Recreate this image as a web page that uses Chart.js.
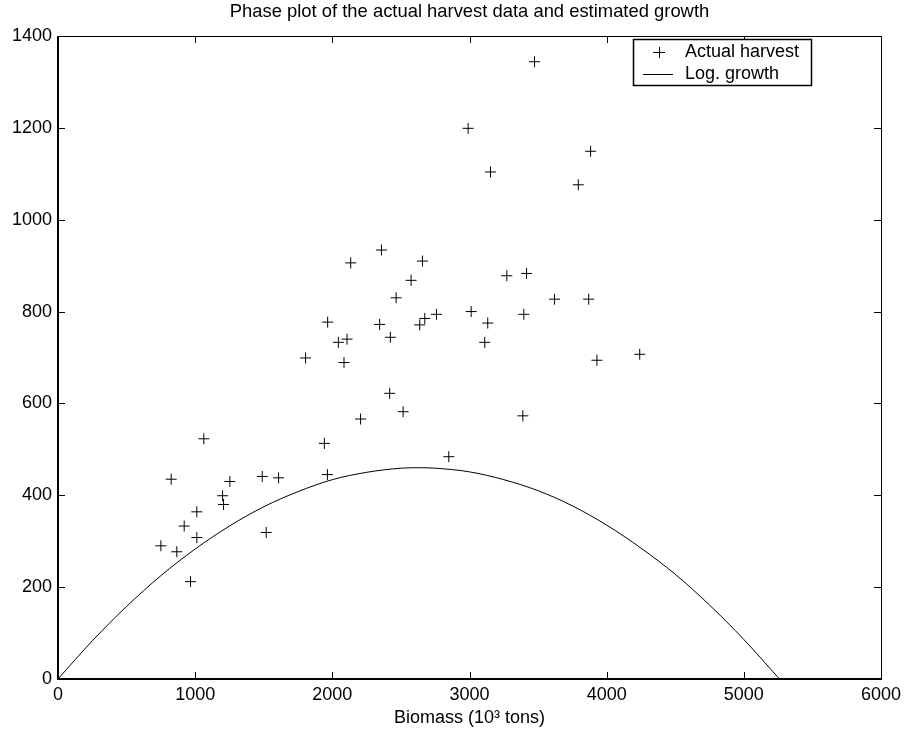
<!DOCTYPE html>
<html>
<head>
<meta charset="utf-8">
<script src="https://cdn.jsdelivr.net/npm/chart.js@4.4.0/dist/chart.umd.min.js"></script>
<style>
  html, body { margin: 0; padding: 0; background: #fff; }
  #wrap { width: 908px; height: 737px; }
</style>
</head>
<body>
<div id="wrap"><canvas id="mycanvas" width="908" height="737"></canvas></div>
<script>
// actual harvest points (biomass, harvest)
var harvestBiomass = [750, 825, 866, 920, 1012, 1012, 966, 1063, 1200, 1207, 1253, 1489, 1518, 1608, 1942, 1964,
	2990, 3474, 3153, 3793, 3883, 2358, 2134, 2657, 2574, 2465, 3272, 3416, 3620, 3869,
	1966, 2345, 2044, 2107, 2423, 2674, 2637, 2759, 3012, 3133, 3111, 3396,
	1805, 2085, 2418, 2516, 2206, 3389, 2849, 3929, 4241];
var harvestValues = [290, 435, 277, 333, 364, 308, 212, 523, 399, 380, 430, 441, 319, 438, 513, 445,
	1199, 1344, 1104, 1076, 1149, 934, 906, 910, 868, 830, 878, 883, 827, 827,
	777, 772, 733, 740, 744, 785, 771, 794, 800, 775, 733, 794,
	699, 689, 622, 582, 566, 573, 484, 694, 707];

// logistic growth curve
var growthBiomass = [0, 250, 500, 750, 1000, 1250, 1500, 1750, 2000, 2250, 2500, 2630, 2750, 3000, 3250, 3500, 3750, 4000, 4250, 4500, 4750, 5000, 5260];
var growthValues = [0, 83, 158, 225, 283, 333, 375, 408, 434, 450, 459, 460, 459, 451, 434, 410, 377, 335, 285, 228, 161, 86, 0];

var xTicks = [0, 1000, 2000, 3000, 4000, 5000, 6000];
var yTicks = [0, 200, 400, 600, 800, 1000, 1200, 1400];

var chartTitle = 'Phase plot of the actual harvest data and estimated growth';
var FONT = "'Liberation Sans', Arial, sans-serif";

var harvestData = [];
for (var i in harvestBiomass) {
	harvestData.push({x: harvestBiomass[i], y: harvestValues[i]});
}
var growthData = [];
for (var j in growthBiomass) {
	growthData.push({x: growthBiomass[j], y: growthValues[j]});
}

// title, box, inward ticks and the boxed legend (matlab look)
var matlabFrame = {
	id: 'matlabFrame',
	afterDraw: function(chart) {
		var ctx = chart.ctx;
		var a = chart.chartArea;
		var xs = chart.scales.x;
		var ys = chart.scales.y;
		var tl = 7;
		ctx.save();

		ctx.fillStyle = '#000';
		ctx.font = '18.4px ' + FONT;
		ctx.textAlign = 'center';
		ctx.textBaseline = 'middle';
		ctx.fillText(chartTitle, (a.left + a.right) / 2, 12);

		ctx.strokeStyle = '#000';
		ctx.lineWidth = 1;
		ctx.beginPath();
		xTicks.forEach(function(v) {
			var px = Math.round(xs.getPixelForValue(v)) + 0.5;
			ctx.moveTo(px, a.bottom); ctx.lineTo(px, a.bottom - tl);
			ctx.moveTo(px, a.top); ctx.lineTo(px, a.top + tl);
		});
		yTicks.forEach(function(v) {
			var py = Math.round(ys.getPixelForValue(v)) + 0.5;
			ctx.moveTo(a.left, py); ctx.lineTo(a.left + tl, py);
			ctx.moveTo(a.right, py); ctx.lineTo(a.right - tl, py);
		});
		ctx.stroke();
		ctx.strokeRect(Math.round(a.left) + 0.5, Math.round(a.top) + 0.5,
			Math.round(a.right - a.left), Math.round(a.bottom - a.top));
		ctx.lineWidth = 2;
		ctx.beginPath();
		ctx.moveTo(Math.round(a.left), Math.round(a.top));
		ctx.lineTo(Math.round(a.left), Math.round(a.bottom));
		ctx.lineTo(Math.round(a.right), Math.round(a.bottom));
		ctx.stroke();

		// legend
		var lx = 633, ly = 39, lw = 178, lh = 46;
		ctx.fillStyle = '#fff';
		ctx.fillRect(lx, ly, lw, lh);
		ctx.lineWidth = 1.5;
		ctx.strokeRect(lx + 0.5, ly + 0.5, lw, lh);
		ctx.lineWidth = 1;
		ctx.beginPath();
		ctx.moveTo(653, 52.5); ctx.lineTo(665, 52.5);
		ctx.moveTo(659.5, 47); ctx.lineTo(659.5, 58);
		ctx.moveTo(643, 74.5); ctx.lineTo(673, 74.5);
		ctx.stroke();
		ctx.fillStyle = '#000';
		ctx.font = '18px ' + FONT;
		ctx.textBaseline = 'middle';
		ctx.textAlign = 'left';
		ctx.fillText('Actual harvest', 685, 52);
		ctx.fillText('Log. growth', 685, 74);
		ctx.restore();
	}
};

var ctx = document.getElementById('mycanvas');

var PhasePlot = new Chart(ctx, {
	type: 'scatter',
	data: {
		datasets: [
			{
				label: 'Actual harvest',
				data: harvestData,
				pointStyle: 'cross',
				pointRadius: 5.5,
				pointHoverRadius: 5.5,
				borderColor: '#000',
				backgroundColor: '#000',
				borderWidth: 1,
				showLine: false
			},
			{
				type: 'line',
				label: 'Log. growth',
				data: growthData,
				borderColor: '#000',
				borderWidth: 1,
				pointRadius: 0,
				fill: false,
				cubicInterpolationMode: 'monotone'
			}
		]
	},
	options: {
		responsive: false,
		animation: false,
		devicePixelRatio: 1,
		layout: { padding: { left: 0, right: 27, top: 36, bottom: 0 } },
		plugins: {
			legend: { display: false },
			tooltip: { enabled: false },
			title: { display: false }
		},
		scales: {
			x: {
				type: 'linear',
				min: 0,
				max: 6000,
				afterBuildTicks: function(s) { s.ticks = xTicks.map(function(v) { return {value: v}; }); },
				afterFit: function(s) { s.height = 58; },
				grid: { display: false, drawTicks: false },
				border: { display: false },
				ticks: {
					color: '#000', padding: 5, maxRotation: 0,
					font: { family: FONT, size: 18 },
					callback: function(v) { return String(v); }
				},
				title: {
					display: true,
					text: 'Biomass (10\u00B3 tons)',
					color: '#000',
					font: { family: FONT, size: 18 },
					padding: { top: 0, bottom: 8 }
				}
			},
			y: {
				type: 'linear',
				min: 0,
				max: 1400,
				afterBuildTicks: function(s) { s.ticks = yTicks.map(function(v) { return {value: v}; }); },
				afterFit: function(s) { s.width = 58; },
				grid: { display: false, drawTicks: false },
				border: { display: false },
				ticks: {
					color: '#000', padding: 6,
					font: { family: FONT, size: 18 },
					callback: function(v) { return String(v); }
				}
			}
		}
	},
	plugins: [matlabFrame]
});
</script>
</body>
</html>
